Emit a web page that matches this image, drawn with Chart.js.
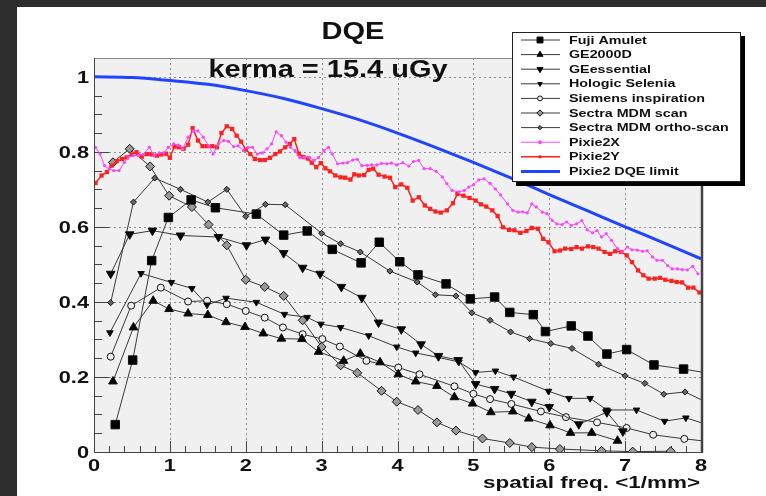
<!DOCTYPE html>
<html>
<head>
<meta charset="utf-8">
<script src="https://cdn.jsdelivr.net/npm/chart.js@4.4.0/dist/chart.umd.min.js"></script>
<style>
  html, body { margin: 0; padding: 0; background: #2d2d2d; width: 766px; height: 496px; overflow: hidden; }
  #wrap { position: absolute; left: 17px; top: 7px; width: 749px; height: 489px; background: #fff; }
</style>
</head>
<body>
<div id="wrap"><canvas id="chartDQE" width="749" height="489"></canvas></div>
<script>
const FONT = '"Liberation Sans", Arial, Helvetica, sans-serif';

// values: spatial frequency (1/mm) and DQE
const fujiX = [0.28, 0.51, 0.76, 0.98, 1.28, 1.6, 2.14, 2.5, 2.81, 3.14, 3.52, 3.76, 4.03, 4.27, 4.64, 4.96, 5.28, 5.48, 5.79, 5.95, 6.29, 6.51, 6.76, 7.02, 7.38, 7.77, 8.1];
const fujiY = [0.073, 0.245, 0.51, 0.625, 0.672, 0.651, 0.634, 0.578, 0.589, 0.54, 0.504, 0.559, 0.507, 0.472, 0.448, 0.408, 0.413, 0.372, 0.366, 0.321, 0.336, 0.309, 0.261, 0.273, 0.232, 0.221, 0.21];

const ge2000X = [0.25, 0.52, 0.78, 0.99, 1.24, 1.5, 1.74, 1.99, 2.23, 2.47, 2.74, 2.96, 3.29, 3.51, 3.77, 4.01, 4.24, 4.52, 4.75, 4.99, 5.23, 5.52, 5.73, 6.01, 6.28, 6.56, 6.9];
const ge2000Y = [0.188, 0.332, 0.403, 0.381, 0.369, 0.365, 0.346, 0.333, 0.316, 0.302, 0.301, 0.267, 0.243, 0.262, 0.239, 0.207, 0.188, 0.176, 0.146, 0.129, 0.106, 0.108, 0.089, 0.071, 0.051, 0.051, 0.03];

const geEssX = [0.22, 0.47, 0.77, 1.14, 1.64, 2.01, 2.26, 2.5, 2.75, 2.98, 3.26, 3.53, 3.75, 4.05, 4.31, 4.54, 4.8, 5.03, 5.28, 5.5, 5.77, 6.0, 6.39, 6.76, 6.97];
const geEssY = [0.475, 0.58, 0.59, 0.577, 0.573, 0.551, 0.566, 0.53, 0.491, 0.475, 0.44, 0.411, 0.345, 0.327, 0.287, 0.256, 0.245, 0.181, 0.168, 0.155, 0.134, 0.12, 0.074, 0.106, 0.055];

const hologicX = [0.21, 0.62, 1.02, 1.29, 1.49, 1.74, 2.14, 2.51, 2.81, 2.99, 3.25, 3.62, 3.99, 4.24, 4.54, 4.81, 5.03, 5.29, 5.53, 5.99, 6.26, 6.54, 6.76, 7.15, 7.52, 7.8, 8.1];
const hologicY = [0.318, 0.476, 0.452, 0.436, 0.392, 0.41, 0.399, 0.367, 0.359, 0.341, 0.332, 0.31, 0.28, 0.264, 0.252, 0.24, 0.212, 0.216, 0.2, 0.162, 0.143, 0.143, 0.112, 0.112, 0.082, 0.091, 0.072];

const siemensX = [0.22, 0.49, 0.88, 1.24, 1.49, 1.75, 2.0, 2.25, 2.49, 2.75, 3.01, 3.24, 3.59, 4.01, 4.29, 4.75, 5.0, 5.22, 5.5, 5.89, 6.22, 6.63, 7.02, 7.37, 7.78, 8.1];
const siemensY = [0.254, 0.39, 0.438, 0.401, 0.403, 0.394, 0.376, 0.358, 0.332, 0.314, 0.301, 0.281, 0.243, 0.225, 0.207, 0.175, 0.155, 0.141, 0.128, 0.108, 0.093, 0.079, 0.064, 0.046, 0.035, 0.028];

const sectraX = [0.25, 0.47, 0.74, 0.99, 1.29, 1.51, 1.75, 2.0, 2.25, 2.5, 2.75, 3.0, 3.25, 3.47, 3.79, 3.99, 4.27, 4.52, 4.77, 5.12, 5.48, 5.77, 6.14, 6.69, 7.1, 7.6];
const sectraY = [0.772, 0.808, 0.761, 0.683, 0.653, 0.606, 0.551, 0.459, 0.44, 0.416, 0.351, 0.28, 0.231, 0.211, 0.163, 0.134, 0.112, 0.079, 0.057, 0.036, 0.024, 0.013, 0.008, 0.003, 0.001, 0.002];

const orthoX = [0.22, 0.52, 0.8, 1.14, 1.5, 1.75, 2.0, 2.26, 2.52, 3.0, 3.25, 3.51, 3.9, 4.26, 4.5, 4.77, 4.98, 5.22, 5.49, 5.74, 6.02, 6.3, 6.65, 7.0, 7.26, 7.51, 7.79, 8.1];
const orthoY = [0.398, 0.666, 0.73, 0.70, 0.666, 0.70, 0.628, 0.66, 0.659, 0.583, 0.555, 0.533, 0.482, 0.453, 0.419, 0.416, 0.371, 0.351, 0.32, 0.302, 0.289, 0.276, 0.234, 0.203, 0.183, 0.154, 0.16, 0.13];

const pixieXx = [0.02, 0.08, 0.14, 0.2, 0.26, 0.33, 0.4, 0.45, 0.52, 0.58, 0.65, 0.73, 0.79, 0.86, 0.92, 0.98, 1.05, 1.11, 1.17, 1.24, 1.31, 1.37, 1.44, 1.51, 1.57, 1.64, 1.71, 1.77, 1.84, 1.9, 1.97, 2.03, 2.09, 2.15, 2.22, 2.28, 2.34, 2.4, 2.47, 2.53, 2.59, 2.65, 2.71, 2.77, 2.84, 2.9, 2.96, 3.03, 3.09, 3.14, 3.21, 3.28, 3.34, 3.41, 3.47, 3.53, 3.6, 3.66, 3.73, 3.79, 3.86, 3.92, 3.99, 4.07, 4.15, 4.21, 4.28, 4.35, 4.43, 4.51, 4.59, 4.65, 4.72, 4.81, 4.88, 4.94, 5.0, 5.07, 5.14, 5.22, 5.29, 5.36, 5.45, 5.52, 5.59, 5.65, 5.71, 5.77, 5.83, 5.91, 5.97, 6.04, 6.1, 6.17, 6.23, 6.29, 6.36, 6.43, 6.5, 6.57, 6.63, 6.69, 6.75, 6.82, 6.9, 6.96, 7.03, 7.09, 7.16, 7.23, 7.29, 7.36, 7.42, 7.49, 7.56, 7.62, 7.69, 7.75, 7.82, 7.89, 7.96];
const pixieXy = [0.812, 0.794, 0.763, 0.754, 0.75, 0.75, 0.772, 0.785, 0.79, 0.79, 0.793, 0.812, 0.79, 0.797, 0.797, 0.812, 0.821, 0.818, 0.808, 0.839, 0.856, 0.856, 0.839, 0.816, 0.794, 0.821, 0.83, 0.828, 0.814, 0.816, 0.803, 0.812, 0.812, 0.794, 0.797, 0.808, 0.821, 0.853, 0.843, 0.826, 0.812, 0.803, 0.785, 0.785, 0.785, 0.777, 0.785, 0.803, 0.812, 0.794, 0.768, 0.77, 0.771, 0.778, 0.78, 0.763, 0.764, 0.765, 0.765, 0.769, 0.768, 0.77, 0.765, 0.771, 0.762, 0.774, 0.777, 0.755, 0.755, 0.748, 0.733, 0.715, 0.697, 0.693, 0.697, 0.706, 0.712, 0.725, 0.728, 0.716, 0.701, 0.685, 0.661, 0.644, 0.639, 0.64, 0.637, 0.661, 0.653, 0.639, 0.635, 0.617, 0.608, 0.606, 0.613, 0.604, 0.608, 0.617, 0.592, 0.584, 0.59, 0.573, 0.582, 0.564, 0.542, 0.533, 0.546, 0.539, 0.538, 0.535, 0.536, 0.52, 0.511, 0.511, 0.497, 0.488, 0.488, 0.486, 0.485, 0.495, 0.475];

const pixieYx = [0.02, 0.1, 0.17, 0.23, 0.3, 0.37, 0.43, 0.5, 0.56, 0.63, 0.7, 0.76, 0.83, 0.89, 0.95, 1.0, 1.06, 1.12, 1.18, 1.24, 1.3, 1.37, 1.43, 1.49, 1.56, 1.62, 1.68, 1.75, 1.82, 1.88, 1.94, 2.0, 2.06, 2.12, 2.19, 2.25, 2.32, 2.39, 2.45, 2.52, 2.58, 2.64, 2.7, 2.76, 2.82, 2.87, 2.93, 2.99, 3.05, 3.11, 3.18, 3.25, 3.31, 3.38, 3.43, 3.49, 3.56, 3.62, 3.68, 3.75, 3.83, 3.9, 3.97, 4.05, 4.13, 4.2, 4.28, 4.36, 4.43, 4.5, 4.57, 4.65, 4.73, 4.79, 4.87, 4.95, 5.03, 5.1, 5.17, 5.25, 5.32, 5.39, 5.47, 5.54, 5.62, 5.7, 5.77, 5.85, 5.92, 5.99, 6.07, 6.14, 6.21, 6.29, 6.36, 6.43, 6.51, 6.58, 6.65, 6.73, 6.8, 6.87, 6.95, 7.02, 7.09, 7.17, 7.24, 7.31, 7.39, 7.46, 7.53, 7.61, 7.68, 7.75, 7.83, 7.9, 7.98];
const pixieYy = [0.717, 0.737, 0.746, 0.763, 0.775, 0.781, 0.785, 0.793, 0.799, 0.787, 0.794, 0.793, 0.79, 0.793, 0.795, 0.784, 0.814, 0.812, 0.808, 0.819, 0.863, 0.83, 0.815, 0.815, 0.815, 0.812, 0.85, 0.868, 0.861, 0.843, 0.827, 0.806, 0.794, 0.781, 0.778, 0.778, 0.784, 0.794, 0.801, 0.812, 0.821, 0.834, 0.795, 0.786, 0.782, 0.771, 0.759, 0.77, 0.756, 0.748, 0.737, 0.732, 0.731, 0.726, 0.74, 0.737, 0.738, 0.752, 0.755, 0.739, 0.734, 0.731, 0.706, 0.713, 0.704, 0.67, 0.679, 0.657, 0.648, 0.641, 0.638, 0.644, 0.663, 0.688, 0.683, 0.677, 0.67, 0.66, 0.654, 0.644, 0.629, 0.599, 0.592, 0.591, 0.584, 0.589, 0.597, 0.595, 0.568, 0.559, 0.535, 0.537, 0.542, 0.541, 0.546, 0.542, 0.548, 0.546, 0.542, 0.533, 0.528, 0.535, 0.533, 0.524, 0.506, 0.484, 0.471, 0.462, 0.462, 0.464, 0.459, 0.456, 0.453, 0.452, 0.438, 0.438, 0.425];

const limitX = [0, 0.5, 1, 1.5, 2, 2.5, 3, 3.5, 4, 4.5, 5, 5.5, 6, 6.5, 7, 7.5, 8];
const limitY = [1.0, 0.998, 0.99, 0.98, 0.963, 0.942, 0.915, 0.885, 0.85, 0.812, 0.772, 0.73, 0.686, 0.643, 0.6, 0.558, 0.515];

const pts = (xs, ys) => xs.map((x, i) => ({ x: x, y: ys[i] }));

function blackSeries(label, xs, ys, style, radius, fill, rotation) {
  return {
    label: label,
    data: pts(xs, ys),
    borderColor: "#3a3a3a",
    borderWidth: 1,
    pointStyle: style,
    pointRadius: radius,
    pointRotation: rotation || 0,
    pointBackgroundColor: fill,
    pointBorderColor: "#111",
    pointBorderWidth: 1,
    order: 1
  };
}

const datasets = [
  blackSeries("Fuji Amulet", fujiX, fujiY, "rect", 6, "#000"),
  blackSeries("GE2000D", ge2000X, ge2000Y, "triangle", 5, "#000"),
  blackSeries("GEessential", geEssX, geEssY, "triangle", 5, "#000", 180),
  blackSeries("Hologic Selenia", hologicX, hologicY, "triangle", 3.8, "#000", 180),
  blackSeries("Siemens inspiration", siemensX, siemensY, "circle", 3.5, "#eee"),
  blackSeries("Sectra MDM scan", sectraX, sectraY, "rectRot", 4.5, "#999"),
  blackSeries("Sectra MDM ortho-scan", orthoX, orthoY, "rectRot", 3, "#666"),
  {
    label: "Pixie2X", data: pts(pixieXx, pixieXy),
    borderColor: "#ff44ff", borderWidth: 1,
    pointStyle: "circle", pointRadius: 1.6,
    pointBackgroundColor: "#ff44ff", pointBorderColor: "#ff44ff", pointBorderWidth: 0,
    order: 0
  },
  {
    label: "Pixie2Y", data: pts(pixieYx, pixieYy),
    borderColor: "#ff2020", borderWidth: 1.5,
    pointStyle: "rect", pointRadius: 3,
    pointBackgroundColor: "#ff2020", pointBorderColor: "#ff2020", pointBorderWidth: 0,
    order: 0
  },
  {
    label: "Pixie2 DQE limit", data: pts(limitX, limitY),
    borderColor: "#2044ff", borderWidth: 3,
    pointRadius: 0, cubicInterpolationMode: "monotone",
    order: 0
  }
];

// the reference text is drawn a little wide, so stretch it horizontally
function wideText(ctx, text, x, y, align, sx) {
  ctx.save();
  ctx.translate(x, y);
  ctx.scale(sx, 1);
  ctx.textAlign = align;
  ctx.fillText(text, 0, 0);
  ctx.restore();
}

const frameTicks = {
  id: "frameTicks",
  beforeDraw(chart) {
    const a = chart.chartArea;
    chart.ctx.save();
    chart.ctx.fillStyle = "#f0f0f0";
    chart.ctx.fillRect(a.left, a.top, a.right - a.left, a.bottom - a.top);
    chart.ctx.restore();
  },
  beforeDatasetsDraw(chart) {
    const ctx = chart.ctx, a = chart.chartArea;
    const xs = chart.scales.x, ys = chart.scales.y;
    ctx.save();
    // dotted grid at the labelled ticks
    ctx.strokeStyle = "#8c8c8c";
    ctx.lineWidth = 1;
    ctx.setLineDash([2, 3]);
    xs.ticks.forEach(t => {
      const px = Math.round(xs.getPixelForValue(t.value)) + 0.5;
      ctx.beginPath(); ctx.moveTo(px, a.top); ctx.lineTo(px, a.bottom); ctx.stroke();
    });
    ys.ticks.forEach(t => {
      const py = Math.round(ys.getPixelForValue(t.value)) + 0.5;
      ctx.beginPath(); ctx.moveTo(a.left, py); ctx.lineTo(a.right, py); ctx.stroke();
    });
    ctx.setLineDash([]);
    // tick marks inside the frame
    ctx.strokeStyle = "#444";
    for (let k = 0; k <= 40; k++) {
      const px = Math.round(xs.getPixelForValue(k * 0.2)) + 0.5;
      const len = k % 5 === 0 ? 11 : 6;
      ctx.beginPath(); ctx.moveTo(px, a.bottom); ctx.lineTo(px, a.bottom - len); ctx.stroke();
    }
    for (let k = 0; k <= 21; k++) {
      const py = Math.round(ys.getPixelForValue(k * 0.05)) + 0.5;
      const len = k % 4 === 0 ? 15 : 8;
      ctx.beginPath(); ctx.moveTo(a.left, py); ctx.lineTo(a.left + len, py); ctx.stroke();
    }
    ctx.restore();
  },
  afterDatasetsDraw(chart) {
    const ctx = chart.ctx, a = chart.chartArea;
    ctx.save();
    ctx.strokeStyle = "#888";
    ctx.lineWidth = 1;
    ctx.strokeRect(a.left + 0.5, a.top + 0.5, a.right - a.left, a.bottom - a.top);
    ctx.strokeStyle = "#444";
    ctx.beginPath(); ctx.moveTo(a.left + 0.5, a.top); ctx.lineTo(a.left + 0.5, a.bottom + 0.5); ctx.lineTo(a.right, a.bottom + 0.5); ctx.stroke();
    ctx.lineWidth = 2.5;
    ctx.beginPath(); ctx.moveTo(a.right + 1, a.top); ctx.lineTo(a.right + 1, a.bottom + 1); ctx.stroke();
    ctx.restore();
  }
};

const textsAndLegend = {
  id: "textsAndLegend",
  afterDraw(chart) {
    const ctx = chart.ctx;
    const xs = chart.scales.x, ys = chart.scales.y;
    ctx.save();
    ctx.fillStyle = "#111";
    ctx.textBaseline = "alphabetic";

    // tick labels
    ctx.font = "bold 17px " + FONT;
    xs.ticks.forEach(t => {
      wideText(ctx, String(t.value), xs.getPixelForValue(t.value), 464, "center", 1.28);
    });
    ys.ticks.forEach(t => {
      wideText(ctx, String(Number(t.value.toFixed(2))), 72, ys.getPixelForValue(t.value) + 6, "right", 1.28);
    });

    ctx.font = "bold 24px " + FONT;
    wideText(ctx, "DQE", 336, 32, "center", 1.21);
    ctx.font = "bold 23px " + FONT;
    wideText(ctx, "kerma = 15.4 uGy", 311, 70, "center", 1.26);
    ctx.font = "bold 17px " + FONT;
    wideText(ctx, "spatial freq. <1/mm>", 683, 481, "right", 1.32);

    // legend box with shadow
    const bx = 495, by = 25, bw = 229, bh = 150;
    ctx.fillStyle = "#000";
    ctx.fillRect(bx + 4, by + 4, bw, bh);
    ctx.fillStyle = "#fff";
    ctx.fillRect(bx, by, bw, bh);
    ctx.strokeStyle = "#222";
    ctx.lineWidth = 1;
    ctx.strokeRect(bx + 0.5, by + 0.5, bw - 1, bh - 1);

    ctx.textBaseline = "middle";
    ctx.font = "bold 11px " + FONT;
    chart.data.datasets.forEach((ds, i) => {
      const y = 33 + i * 14.6;
      ctx.strokeStyle = ds.borderColor;
      ctx.lineWidth = ds.borderWidth;
      ctx.beginPath(); ctx.moveTo(504, y); ctx.lineTo(543, y); ctx.stroke();
      if (ds.pointRadius > 0) {
        ctx.fillStyle = ds.pointBackgroundColor;
        ctx.strokeStyle = ds.pointBorderColor;
        ctx.lineWidth = 1;
        const opts = { pointStyle: ds.pointStyle, rotation: ds.pointRotation || 0, radius: Math.max(ds.pointRadius * 0.7, 2), borderWidth: ds.pointBorderWidth };
        if (Chart.helpers && Chart.helpers.drawPoint) {
          Chart.helpers.drawPoint(ctx, opts, 523, y);
        } else {
          ctx.fillRect(520, y - 3, 6, 6);
        }
      }
      ctx.fillStyle = "#111";
      wideText(ctx, ds.label, 552, y + 0.5, "left", 1.3);
    });
    ctx.restore();
  }
};

new Chart(document.getElementById("chartDQE"), {
  type: "line",
  data: { datasets: datasets },
  plugins: [frameTicks, textsAndLegend],
  options: {
    responsive: false,
    animation: false,
    layout: { padding: { top: 51, right: 65, left: 0, bottom: 0 } },
    plugins: { legend: { display: false }, tooltip: { enabled: false } },
    elements: { line: { tension: 0 } },
    scales: {
      x: {
        type: "linear", min: 0, max: 8,
        afterFit(axis) { axis.height = 44; },
        grid: { drawOnChartArea: false, drawTicks: false, tickLength: 0, color: "rgba(0,0,0,0)" },
        border: { display: false },
        ticks: { stepSize: 1, display: false }
      },
      y: {
        type: "linear", min: 0, max: 1.05,
        afterFit(axis) { axis.width = 77; },
        grid: { drawOnChartArea: false, drawTicks: false, tickLength: 0, color: "rgba(0,0,0,0)" },
        border: { display: false },
        ticks: { stepSize: 0.2, includeBounds: false, display: false }
      }
    }
  }
});
</script>
</body>
</html>
